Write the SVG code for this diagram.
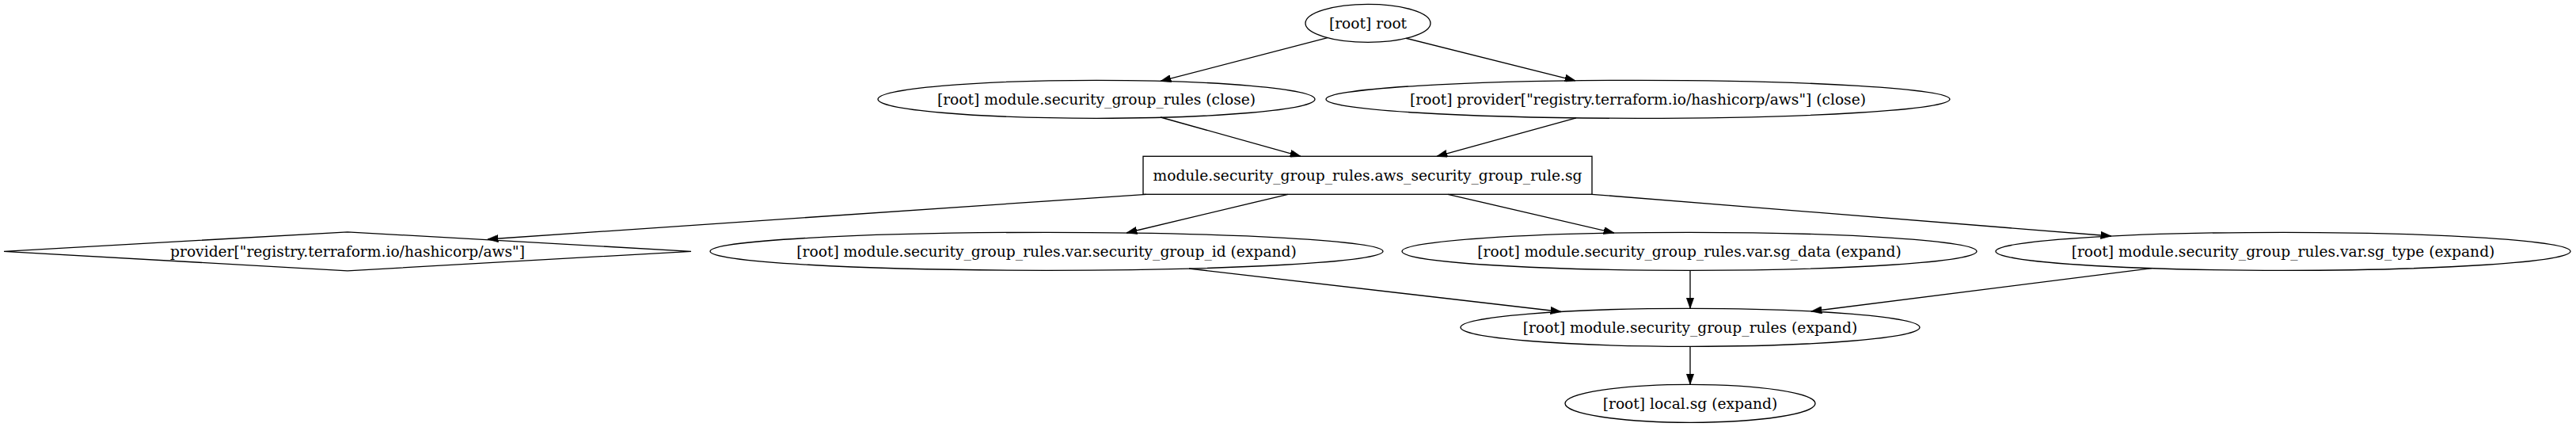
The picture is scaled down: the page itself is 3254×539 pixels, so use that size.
<svg xmlns="http://www.w3.org/2000/svg" width="3254" height="539" viewBox="0 0 3254 539">
<style>
.n ellipse, .n rect, .n polygon { fill: none; stroke: #000; stroke-width: 1.33; }
.n text { font-family: "DejaVu Serif", "Liberation Serif", serif; font-size: 18.67px; fill: #000; text-anchor: middle; }
#edges line { stroke: #000; stroke-width: 1.33; marker-end: url(#arr); }
</style>
<defs>
<marker id="arr" viewBox="0 0 10 7" refX="10" refY="3.5" markerWidth="13.33" markerHeight="9.33" markerUnits="userSpaceOnUse" orient="auto">
<path d="M0,0 L10,3.5 L0,7 z" fill="#000" stroke="#000" stroke-width="0.5"/>
</marker>
</defs>
<rect x="0" y="0" width="3254" height="539" fill="#fff"/>
<g id="edges">
<line x1="1677" y1="47.6" x2="1466" y2="102.4"/>
<line x1="1776" y1="48.3" x2="1990" y2="101.8"/>
<line x1="1466" y1="148" x2="1643" y2="197.3"/>
<line x1="1991" y1="148.8" x2="1815" y2="197.3"/>
<line x1="1448" y1="245.3" x2="616" y2="302"/>
<line x1="1627" y1="245.3" x2="1423" y2="294"/>
<line x1="1829" y1="245.3" x2="2039" y2="294"/>
<line x1="2011" y1="245.3" x2="2667" y2="298"/>
<line x1="1502" y1="339" x2="1972" y2="393.5"/>
<line x1="2135" y1="341.3" x2="2135" y2="389.3"/>
<line x1="2718" y1="338.6" x2="2288" y2="393"/>
<line x1="2135" y1="437.3" x2="2135" y2="485.3"/>
</g>
<g id="root" class="n"><ellipse cx="1728" cy="29.3" rx="79" ry="24"/><text x="1728" y="35.6">[root] root</text></g>
<g id="mod_close" class="n"><ellipse cx="1385" cy="125.3" rx="276" ry="24"/><text x="1385" y="131.6">[root] module.security_group_rules (close)</text></g>
<g id="prov_close" class="n"><ellipse cx="2069" cy="125.3" rx="394" ry="24"/><text x="2069" y="131.6">[root] provider["registry.terraform.io/hashicorp/aws"] (close)</text></g>
<g id="sg_rule" class="n"><rect x="1444" y="197.3" width="567" height="48"/><text x="1727.5" y="227.6">module.security_group_rules.aws_security_group_rule.sg</text></g>
<g id="provider" class="n"><polygon points="5,317.3 439,292.8 873,317.3 439,341.8"/><text x="439" y="323.6">provider["registry.terraform.io/hashicorp/aws"]</text></g>
<g id="var_sgid" class="n"><ellipse cx="1322" cy="317.3" rx="425" ry="24"/><text x="1322" y="323.6">[root] module.security_group_rules.var.security_group_id (expand)</text></g>
<g id="var_sgdata" class="n"><ellipse cx="2134" cy="317.3" rx="363" ry="24"/><text x="2134" y="323.6">[root] module.security_group_rules.var.sg_data (expand)</text></g>
<g id="var_sgtype" class="n"><ellipse cx="2884" cy="317.3" rx="363" ry="24"/><text x="2884" y="323.6">[root] module.security_group_rules.var.sg_type (expand)</text></g>
<g id="mod_expand" class="n"><ellipse cx="2135" cy="413.3" rx="290" ry="24"/><text x="2135" y="419.6">[root] module.security_group_rules (expand)</text></g>
<g id="local_sg" class="n"><ellipse cx="2135" cy="509.3" rx="158" ry="24"/><text x="2135" y="515.6">[root] local.sg (expand)</text></g>
</svg>
